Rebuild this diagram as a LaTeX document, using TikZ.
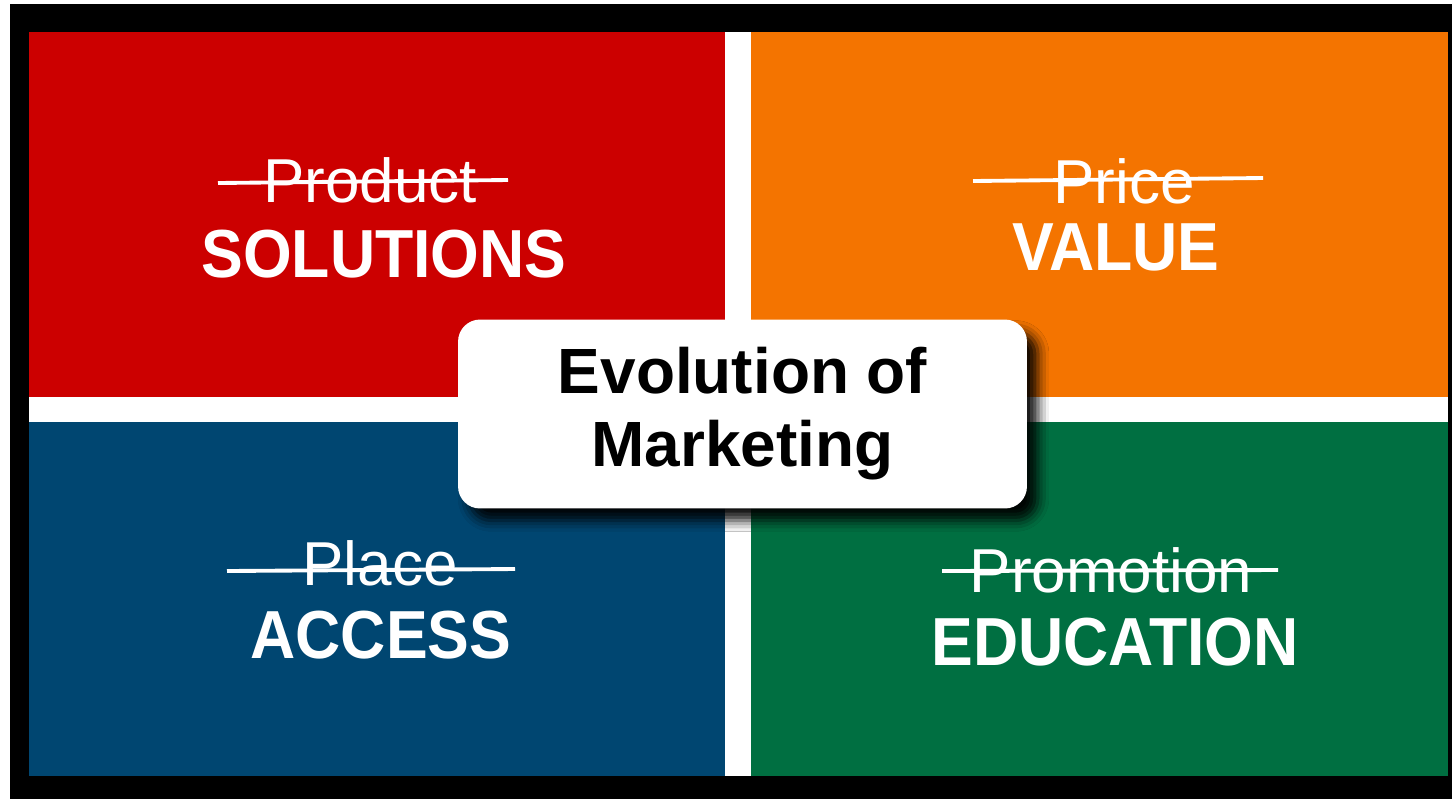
\documentclass[tikz,border=0pt]{standalone}
\usepackage{fontspec}
\setmainfont{Liberation Sans}
\newfontfamily\capsfont[FakeStretch=0.92]{Liberation Sans}
\definecolor{mkred}{RGB}{204, 0, 0}
\definecolor{mkorange}{RGB}{244, 116, 0}
\definecolor{mkblue}{RGB}{0, 70, 113}
\definecolor{mkgreen}{RGB}{0, 111, 65}
\usetikzlibrary{shadows.blur}

\tikzset{
  oldword/.style={text=white, anchor=base, inner sep=0pt, font=\fontsize{35.3pt}{40pt}\selectfont},
  newword/.style={text=white, anchor=base, inner sep=0pt, font=\capsfont\bfseries\fontsize{38.7pt}{44pt}\selectfont},
  strike/.style={white, line width=2.2pt},
  hub/.style={fill=white, rounded corners=0.44cm, minimum width=11.38cm, minimum height=3.78cm,
    align=center, font=\bfseries\fontsize{36.4pt}{41.5pt}\selectfont,
    blur shadow={shadow xshift=0.22cm, shadow yshift=-0.24cm, shadow blur radius=0.22cm, shadow opacity=95}},
}

\begin{document}
\begin{tikzpicture}[x=0.02cm, y=-0.02cm]
\useasboundingbox (0,0) rectangle (1452,799);
\fill[black] (10,4) rectangle (1452,799);
\fill[white] (29,32) rectangle (1448,776);
% the four quarters
\foreach \xa/\ya/\xb/\yb/\col in {29/32/725/397/mkred, 751/32/1448/397/mkorange, 29/422/725/776/mkblue, 751/422/1448/776/mkgreen} {
  \fill[\col] (\xa,\ya) rectangle (\xb,\yb);
}
% old and new words
\node[oldword] (product) at (370,202) {Product};
\node[newword] (solutions) at (384,277) {SOLUTIONS};
\node[oldword] (price) at (1124,203) {Price};
\node[newword] (value) at (1116,270) {VALUE};
\node[oldword] (place) at (380,585) {Place};
\node[newword] (access) at (381,658) {ACCESS};
\node[oldword] (promotion) at (1111,592) {Promotion};
\node[newword] (education) at (1115,665) {EDUCATION};
\draw[strike] (218,183) -- (508,180);
\draw[strike] (973,181) -- (1263,178);
\draw[strike] (227,571) -- (515,569);
\draw[strike] (942,571) -- (1278,570);
% centre box
\node[hub] (hub) at (742.5,414) {Evolution of\\Marketing};
\end{tikzpicture}
\end{document}
